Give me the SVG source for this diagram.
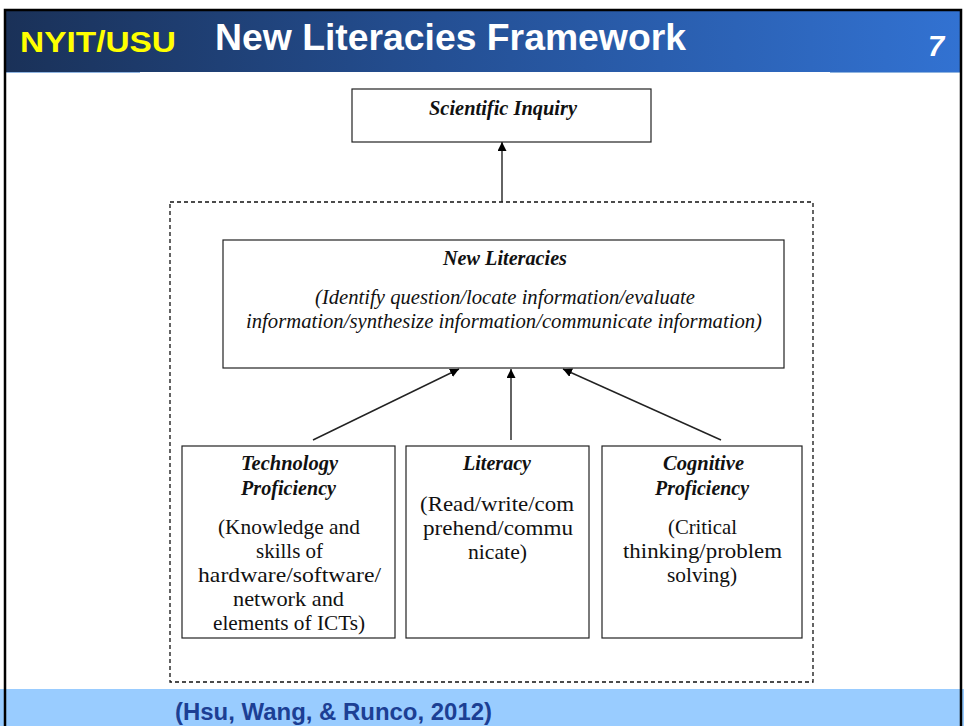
<svg xmlns="http://www.w3.org/2000/svg" width="964" height="726" viewBox="0 0 964 726">
  <defs>
    <linearGradient id="hdr" x1="0" y1="0" x2="1" y2="0">
      <stop offset="0" stop-color="#1a3158"/>
      <stop offset="0.45" stop-color="#244f93"/>
      <stop offset="1" stop-color="#3272d2"/>
    </linearGradient>
    <marker id="arr" viewBox="0 0 10 10" refX="10" refY="5" markerWidth="9" markerHeight="9" markerUnits="userSpaceOnUse" orient="auto">
      <path d="M0,0 L10,5 L0,10 z" fill="#000"/>
    </marker>
    <style>
      .box { fill: #fff; stroke: #222; stroke-width: 1.2; }
      .conn { stroke: #222; stroke-width: 1.4; fill: none; marker-end: url(#arr); }
      .hd { font-family: "Liberation Serif", "Times New Roman", serif; font-weight: bold; font-style: italic; font-size: 20.5px; fill: #111; text-anchor: middle; }
      .it { font-family: "Liberation Serif", "Times New Roman", serif; font-style: italic; font-size: 20.5px; fill: #111; text-anchor: middle; }
      .bd { font-family: "Liberation Serif", "Times New Roman", serif; font-size: 21px; fill: #111; text-anchor: middle; }
      .hdr { font-family: "Liberation Sans", Arial, sans-serif; font-weight: bold; }
    </style>
  </defs>

  <!-- slide background and frame -->
  <rect x="0" y="0" width="964" height="726" fill="#fff"/>
  <rect x="0" y="689" width="964" height="37" fill="#99ccff"/>
  <rect x="5" y="11" width="956" height="61" fill="url(#hdr)"/>
  <line x1="5" y1="72.5" x2="140" y2="72.5" stroke="#8fb4e0" stroke-width="1"/>
  <line x1="830" y1="72.5" x2="961" y2="72.5" stroke="#8fb4e0" stroke-width="1"/>
  <path d="M5,726 L5,10 L961,10 L961,726" fill="none" stroke="#000" stroke-width="2.5"/>

  <!-- header texts -->
  <text class="hdr" x="20" y="52" font-size="30" fill="#ffff00" textLength="156" lengthAdjust="spacingAndGlyphs">NYIT/USU</text>
  <text class="hdr" x="215" y="50" font-size="37" fill="#ffffff" textLength="471" lengthAdjust="spacingAndGlyphs">New Literacies Framework</text>
  <text class="hdr" x="928" y="56" font-size="29" font-style="italic" fill="#ffffff">7</text>

  <!-- dashed grouping frame -->
  <rect x="170" y="202" width="643" height="480" fill="none" stroke="#111" stroke-width="1.3" stroke-dasharray="4,3"/>

  <!-- connectors -->
  <g id="connectors">
    <line class="conn" x1="502" y1="202" x2="502" y2="142"/>
    <line class="conn" x1="313" y1="440" x2="459" y2="369"/>
    <line class="conn" x1="511" y1="440" x2="511" y2="369"/>
    <line class="conn" x1="721" y1="440" x2="563" y2="369"/>
  </g>

  <g id="scientific-inquiry">
    <rect class="box" x="352" y="89" width="299" height="53"/>
    <text class="hd" x="503" y="115" textLength="148" lengthAdjust="spacingAndGlyphs">Scientific Inquiry</text>
  </g>

  <g id="new-literacies">
    <rect class="box" x="223" y="240" width="561" height="128"/>
    <text class="hd" x="505" y="265" textLength="124" lengthAdjust="spacingAndGlyphs">New Literacies</text>
    <text class="it" x="505" y="304" textLength="380" lengthAdjust="spacingAndGlyphs">(Identify question/locate information/evaluate</text>
    <text class="it" x="504" y="328" textLength="516" lengthAdjust="spacingAndGlyphs">information/synthesize information/communicate information)</text>
  </g>

  <g id="technology-proficiency">
    <rect class="box" x="182" y="446" width="213" height="192"/>
    <text class="hd" x="289.5" y="470" textLength="97" lengthAdjust="spacingAndGlyphs">Technology</text>
    <text class="hd" x="288.5" y="495" textLength="95" lengthAdjust="spacingAndGlyphs">Proficiency</text>
    <text class="bd" x="289" y="534" textLength="142" lengthAdjust="spacingAndGlyphs">(Knowledge and</text>
    <text class="bd" x="289.5" y="558" textLength="67" lengthAdjust="spacingAndGlyphs">skills of</text>
    <text class="bd" x="289.5" y="582" textLength="183" lengthAdjust="spacingAndGlyphs">hardware/software/</text>
    <text class="bd" x="288.5" y="606" textLength="111" lengthAdjust="spacingAndGlyphs">network and</text>
    <text class="bd" x="289" y="630" textLength="152" lengthAdjust="spacingAndGlyphs">elements of ICTs)</text>
  </g>

  <g id="literacy">
    <rect class="box" x="406" y="446" width="183" height="192"/>
    <text class="hd" x="497" y="470" textLength="68" lengthAdjust="spacingAndGlyphs">Literacy</text>
    <text class="bd" x="497" y="511" textLength="154" lengthAdjust="spacingAndGlyphs">(Read/write/com</text>
    <text class="bd" x="498" y="535" textLength="150" lengthAdjust="spacingAndGlyphs">prehend/commu</text>
    <text class="bd" x="497.5" y="559" textLength="59" lengthAdjust="spacingAndGlyphs">nicate)</text>
  </g>

  <g id="cognitive-proficiency">
    <rect class="box" x="602" y="446" width="200" height="192"/>
    <text class="hd" x="703.5" y="470" textLength="81" lengthAdjust="spacingAndGlyphs">Cognitive</text>
    <text class="hd" x="702" y="495" textLength="94" lengthAdjust="spacingAndGlyphs">Proficiency</text>
    <text class="bd" x="702.5" y="534" textLength="69" lengthAdjust="spacingAndGlyphs">(Critical</text>
    <text class="bd" x="702.5" y="558" textLength="159" lengthAdjust="spacingAndGlyphs">thinking/problem</text>
    <text class="bd" x="702" y="582" textLength="70" lengthAdjust="spacingAndGlyphs">solving)</text>
  </g>

  <!-- citation -->
  <text class="hdr" x="175" y="720" font-size="23" fill="#1c3f94" textLength="317" lengthAdjust="spacingAndGlyphs">(Hsu, Wang, &amp; Runco, 2012)</text>
</svg>
